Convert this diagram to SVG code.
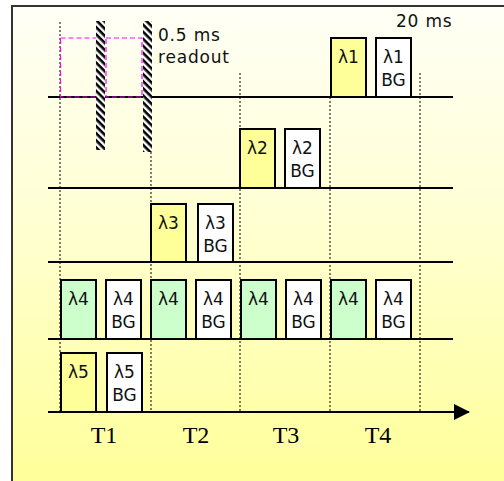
<svg xmlns="http://www.w3.org/2000/svg" width="504" height="481" viewBox="0 0 504 481">
<defs>
<linearGradient id="bg" x1="0" y1="0" x2="0" y2="1">
<stop offset="0" stop-color="#fffff6"/>
<stop offset="0.45" stop-color="#ffffd2"/>
<stop offset="1" stop-color="#ffff99"/>
</linearGradient>
<pattern id="hatch" patternUnits="userSpaceOnUse" width="5" height="5" patternTransform="rotate(45)">
<rect width="5" height="5" fill="#ffffff"/>
<rect width="5" height="2.6" fill="#000000"/>
</pattern>
<marker id="arr" viewBox="0 0 16 16" refX="15" refY="8" markerWidth="16" markerHeight="16" markerUnits="userSpaceOnUse" orient="auto">
<path d="M0,0 L16,8 L0,16 Z" fill="#000"/>
</marker>
</defs>
<style>
.ln{stroke:#000;stroke-width:2;fill:none}
.dot{stroke:#000;stroke-width:1;stroke-dasharray:2,2;fill:none}
.box{stroke:#000;stroke-width:2}
.y{fill:#ffff99}
.g{fill:#ccffcc}
.w{fill:#ffffff}
.lb{font-family:"DejaVu Sans",sans-serif;font-size:17px;fill:#111;text-anchor:middle}
.tx{font-family:"DejaVu Sans",sans-serif;font-size:17px;fill:#111;letter-spacing:0.8px}
.tt{font-family:"Liberation Serif","Times New Roman",serif;font-size:24px;fill:#000;text-anchor:middle}
.mg{stroke:#ff00ff;stroke-width:1.2;stroke-dasharray:5,3;fill:none}
</style>
<rect x="0" y="0" width="504" height="481" fill="#ffffff"/>
<rect x="13" y="7" width="495" height="480" fill="url(#bg)"/>
<path d="M12,481 L12,6 L504,6" stroke="#333" stroke-width="2" fill="none"/>
<g id="connectors">
<line class="dot" x1="60" y1="22" x2="60" y2="412"/>
<line class="dot" x1="151" y1="152" x2="151" y2="412"/>
<line class="dot" x1="240" y1="73" x2="240" y2="412"/>
<line class="dot" x1="330" y1="97" x2="330" y2="412"/>
<line class="dot" x1="420" y1="73" x2="420" y2="412"/>
<line class="ln" x1="48" y1="97" x2="453" y2="97"/>
<line class="ln" x1="48" y1="188" x2="453" y2="188"/>
<line class="ln" x1="48" y1="262" x2="453" y2="262"/>
<line class="ln" x1="48" y1="339" x2="453" y2="339"/>
<line class="ln" x1="48" y1="412" x2="469" y2="412" marker-end="url(#arr)"/>
</g>
<g id="readout">
<rect class="mg" x="60.5" y="38" width="36" height="59"/>
<rect class="mg" x="106" y="38" width="36" height="59"/>
<rect x="96" y="21" width="9" height="129" fill="url(#hatch)"/>
<rect x="143" y="21" width="9" height="131" fill="url(#hatch)"/>
<text class="tx" x="158" y="41">0.5 ms</text>
<text class="tx" x="158" y="63">readout</text>
</g>
<text id="t20ms" class="tx" x="396" y="27">20 ms</text>
<g id="l1"><rect class="box y" x="331" y="38" width="35" height="59"/><text class="lb" x="348.5" y="63">λ1</text></g>
<g id="l1bg"><rect class="box w" x="376" y="38" width="35" height="59"/><text class="lb" x="393.5" y="63">λ1</text><text class="lb" x="393.5" y="86">BG</text></g>
<g id="l2"><rect class="box y" x="240" y="129" width="35" height="59"/><text class="lb" x="257.5" y="154">λ2</text></g>
<g id="l2bg"><rect class="box w" x="285" y="129" width="35" height="59"/><text class="lb" x="302.5" y="154">λ2</text><text class="lb" x="302.5" y="177">BG</text></g>
<g id="l3"><rect class="box y" x="151" y="204" width="35" height="58"/><text class="lb" x="168.5" y="229">λ3</text></g>
<g id="l3bg"><rect class="box w" x="198" y="204" width="35" height="58"/><text class="lb" x="215.5" y="229">λ3</text><text class="lb" x="215.5" y="252">BG</text></g>
<g id="l4a"><rect class="box g" x="61" y="280" width="35" height="59"/><text class="lb" x="78.5" y="305">λ4</text></g>
<g id="l4abg"><rect class="box w" x="106" y="280" width="35" height="59"/><text class="lb" x="123.5" y="305">λ4</text><text class="lb" x="123.5" y="328">BG</text></g>
<g id="l4b"><rect class="box g" x="151" y="280" width="35" height="59"/><text class="lb" x="168.5" y="305">λ4</text></g>
<g id="l4bbg"><rect class="box w" x="196" y="280" width="35" height="59"/><text class="lb" x="213.5" y="305">λ4</text><text class="lb" x="213.5" y="328">BG</text></g>
<g id="l4c"><rect class="box g" x="241" y="280" width="35" height="59"/><text class="lb" x="258.5" y="305">λ4</text></g>
<g id="l4cbg"><rect class="box w" x="286" y="280" width="35" height="59"/><text class="lb" x="303.5" y="305">λ4</text><text class="lb" x="303.5" y="328">BG</text></g>
<g id="l4d"><rect class="box g" x="331" y="280" width="35" height="59"/><text class="lb" x="348.5" y="305">λ4</text></g>
<g id="l4dbg"><rect class="box w" x="376" y="280" width="35" height="59"/><text class="lb" x="393.5" y="305">λ4</text><text class="lb" x="393.5" y="328">BG</text></g>
<g id="l5"><rect class="box y" x="61" y="353" width="35" height="59"/><text class="lb" x="78.5" y="378">λ5</text></g>
<g id="l5bg"><rect class="box w" x="107" y="353" width="35" height="59"/><text class="lb" x="124.5" y="378">λ5</text><text class="lb" x="124.5" y="401">BG</text></g>
<g id="labels">
<text class="tt" x="104" y="443">T1</text>
<text class="tt" x="196" y="443">T2</text>
<text class="tt" x="286" y="443">T3</text>
<text class="tt" x="378" y="443">T4</text>
</g>
</svg>
